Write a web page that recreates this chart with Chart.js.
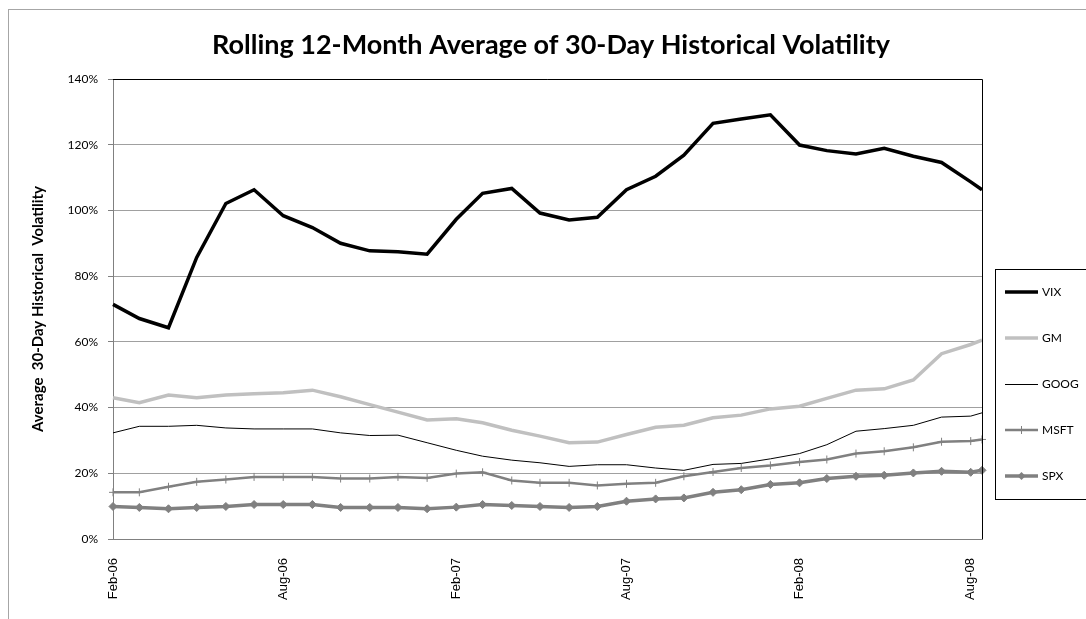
<!DOCTYPE html>
<html>
<head>
<meta charset="utf-8">
<script src="https://cdn.jsdelivr.net/npm/chart.js@4.4.1/dist/chart.umd.min.js"></script>
<style>
  html, body { margin: 0; padding: 0; background: #fff; }
  #wrap { width: 1086px; height: 619px; position: relative; }
</style>
</head>
<body>
<div id="wrap"><canvas id="volChart"></canvas></div>
<script>
// Fechas de cada punto (mensual, el último a mitad de agosto 2008)
const dates = [
  '2006-02-01','2006-03-01','2006-04-01','2006-05-01','2006-06-01','2006-07-01',
  '2006-08-01','2006-09-01','2006-10-01','2006-11-01','2006-12-01','2007-01-01',
  '2007-02-01','2007-03-01','2007-04-01','2007-05-01','2007-06-01','2007-07-01',
  '2007-08-01','2007-09-01','2007-10-01','2007-11-01','2007-12-01','2008-01-01',
  '2008-02-01','2008-03-01','2008-04-01','2008-05-01','2008-06-01','2008-07-01',
  '2008-08-01','2008-08-13'
];
const tickDates = ['2006-02-01','2006-08-01','2007-02-01','2007-08-01','2008-02-01','2008-08-01'];
const tickLabels = ['Feb-06','Aug-06','Feb-07','Aug-07','Feb-08','Aug-08'];
const yTicks = [0, 20, 40, 60, 80, 100, 120, 140];
const chartTitle = 'Rolling 12-Month Average of 30-Day Historical Volatility';

// Valores en %
const vix  = [71.4, 67.1, 64.3, 85.7, 102.1, 106.3, 98.4, 94.8, 90.0, 87.7, 87.4, 86.7, 97.3, 105.2, 106.7, 99.2,
              97.1, 97.9, 106.3, 110.4, 116.8, 126.5, 127.8, 129.1, 119.9, 118.2, 117.2, 118.9, 116.5, 114.6, 108.7, 106.3];
const gm   = [43.0, 41.5, 43.8, 43.0, 43.8, 44.2, 44.5, 45.3, 43.3, 40.9, 38.6, 36.2, 36.6, 35.4, 33.1, 31.3,
              29.3, 29.5, 31.8, 34.0, 34.6, 36.9, 37.7, 39.6, 40.4, 42.8, 45.3, 45.7, 48.4, 56.4, 59.2, 60.5];
const goog = [32.3, 34.3, 34.3, 34.6, 33.8, 33.5, 33.5, 33.5, 32.3, 31.5, 31.6, 29.3, 27.0, 25.2, 24.0, 23.2,
              22.1, 22.6, 22.6, 21.6, 20.9, 22.7, 23.0, 24.4, 26.0, 28.7, 32.8, 33.6, 34.6, 37.1, 37.4, 38.4];
const msft = [14.2, 14.2, 15.9, 17.4, 18.1, 18.9, 18.9, 18.9, 18.4, 18.4, 18.9, 18.6, 19.9, 20.3, 17.8, 17.1,
              17.1, 16.3, 16.8, 17.1, 19.1, 20.4, 21.6, 22.4, 23.4, 24.2, 26.0, 26.7, 27.9, 29.6, 29.8, 30.3];
const spx  = [9.9, 9.6, 9.2, 9.6, 9.9, 10.5, 10.5, 10.5, 9.6, 9.6, 9.6, 9.2, 9.7, 10.5, 10.2, 9.9,
              9.6, 9.9, 11.5, 12.2, 12.5, 14.2, 15.0, 16.6, 17.1, 18.4, 19.1, 19.4, 20.1, 20.6, 20.3, 20.9];

// días desde el primer punto (eje de fechas como en Excel)
const t0 = Date.parse(dates[0]);
const dayOf = d => (Date.parse(d) - t0) / 86400000;
const xs = dates.map(dayOf);
const pts = arr => arr.map((v, i) => ({ x: xs[i], y: v }));

const GRAY = '#808080';
const LIGHT = '#c0c0c0';

// Marco exterior, título, bordes del área de trazado y leyenda
const framePlugin = {
  id: 'framePlugin',
  beforeDraw(chart) {
    const ctx = chart.ctx;
    ctx.save();
    ctx.fillStyle = '#fff';
    ctx.fillRect(0, 0, chart.width, chart.height);
    ctx.strokeStyle = '#a6a6a6';
    ctx.lineWidth = 1;
    ctx.strokeRect(8.5, 9.5, 1300, 800);
    // título
    ctx.fillStyle = '#000';
    ctx.font = 'bold 27px Lato';
    ctx.textAlign = 'center';
    ctx.textBaseline = 'middle';
    ctx.fillText(chartTitle, 551, 45);
    ctx.restore();
  },
  afterDraw(chart) {
    const ctx = chart.ctx;
    const a = chart.chartArea;
    ctx.save();
    ctx.strokeStyle = '#000';
    ctx.lineWidth = 1;
    ctx.beginPath();
    ctx.moveTo(a.left, Math.round(a.top) + 0.5);
    ctx.lineTo(Math.round(a.right) + 0.5, Math.round(a.top) + 0.5);
    ctx.lineTo(Math.round(a.right) + 0.5, a.bottom);
    ctx.stroke();

    // leyenda
    ctx.fillStyle = '#fff';
    ctx.fillRect(995.5, 269.5, 300, 230);
    ctx.strokeStyle = '#000';
    ctx.strokeRect(995.5, 269.5, 300, 230);
    chart.data.datasets.forEach((ds, i) => {
      const y = 292 + 46 * i + (ds.borderWidth === 1 ? 0.5 : 0);
      ctx.strokeStyle = ds.borderColor;
      ctx.lineWidth = ds.borderWidth;
      ctx.beginPath();
      ctx.moveTo(1005, y);
      ctx.lineTo(1038, y);
      ctx.stroke();
      const cx = 1021.5;
      if (ds.pointStyle === 'cross') {
        ctx.lineWidth = 1;
        ctx.beginPath();
        ctx.moveTo(cx, y - 4); ctx.lineTo(cx, y + 4);
        ctx.moveTo(cx - 4, y); ctx.lineTo(cx + 4, y);
        ctx.stroke();
      } else if (ds.pointStyle === 'rectRot') {
        ctx.fillStyle = ds.pointBackgroundColor;
        ctx.beginPath();
        ctx.moveTo(cx, y - 4); ctx.lineTo(cx + 4, y);
        ctx.lineTo(cx, y + 4); ctx.lineTo(cx - 4, y);
        ctx.closePath();
        ctx.fill();
      }
      ctx.fillStyle = '#000';
      ctx.font = '12px Lato';
      ctx.textBaseline = 'middle';
      ctx.textAlign = 'left';
      ctx.fillText(ds.label, 1042, 292 + 46 * i);
    });
    ctx.restore();
  }
};

new Chart(document.getElementById('volChart'), {
  type: 'line',
  data: {
    datasets: [
      { label: 'VIX', data: pts(vix), borderColor: '#000', borderWidth: 3.5, pointRadius: 0 },
      { label: 'GM', data: pts(gm), borderColor: LIGHT, borderWidth: 3.5, pointRadius: 0 },
      { label: 'GOOG', data: pts(goog), borderColor: '#000', borderWidth: 1, pointRadius: 0 },
      { label: 'MSFT', data: pts(msft), borderColor: GRAY, borderWidth: 2.5, pointStyle: 'cross',
        pointRadius: 4, pointBorderWidth: 1, pointBorderColor: GRAY, pointBackgroundColor: GRAY },
      { label: 'SPX', data: pts(spx), borderColor: GRAY, borderWidth: 3.5, pointStyle: 'rectRot',
        pointRadius: 4, pointBorderWidth: 1, pointBorderColor: GRAY, pointBackgroundColor: GRAY }
    ]
  },
  options: {
    responsive: true,
    maintainAspectRatio: false,
    animation: false,
    clip: false,
    layout: { padding: { left: 0, right: 104, top: 79, bottom: 0 } },
    elements: { line: { tension: 0 } },
    plugins: {
      legend: { display: false },
      tooltip: { enabled: false },
      title: { display: false }
    },
    scales: {
      x: {
        type: 'linear',
        min: xs[0],
        max: xs[xs.length - 1],
        afterBuildTicks: s => { s.ticks = tickDates.map(d => ({ value: dayOf(d) })); },
        afterFit: s => { s.height = 80; },
        grid: { display: false, drawTicks: false },
        border: { display: true, color: GRAY, width: 1 },
        ticks: {
          minRotation: 90, maxRotation: 90, autoSkip: false, padding: 19,
          color: '#000', font: { family: 'Liberation Sans', size: 13 },
          callback: (v, i) => tickLabels[i]
        }
      },
      y: {
        min: 0, max: 140,
        afterBuildTicks: s => { s.ticks = yTicks.map(v => ({ value: v })); },
        afterFit: s => { s.width = 113; },
        grid: { color: '#a0a0a0', tickLength: 5, tickColor: GRAY },
        border: { display: true, color: GRAY, width: 1 },
        ticks: { padding: 10, color: '#000', font: { family: 'Lato', size: 12 }, callback: v => v + '%' },
        title: {
          display: true,
          text: 'Average  30-Day Historical  Volatility',
          color: '#000',
          font: { family: 'Lato', size: 15, weight: 'bold' },
          padding: { top: 29, bottom: 0 }
        }
      }
    }
  },
  plugins: [framePlugin]
});
</script>
</body>
</html>
